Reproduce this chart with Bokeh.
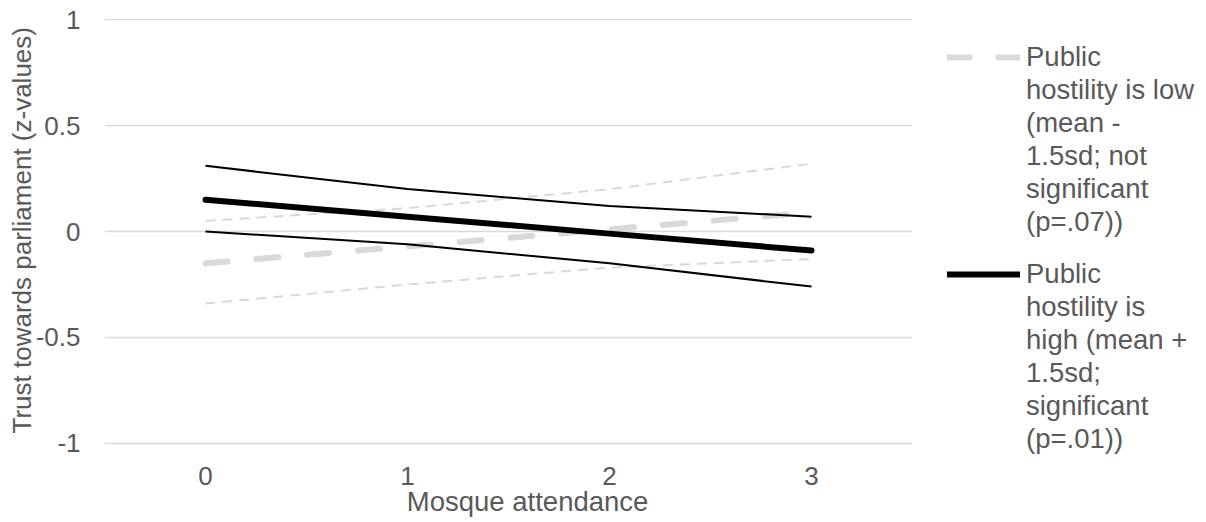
from bokeh.plotting import figure
from bokeh.layouts import row
from bokeh.models import FactorRange, Range1d, FixedTicker, Legend, LegendItem
from bokeh.embed import file_html
from bokeh.resources import INLINE

# ---- data ----
categories = ["0", "1", "2", "3"]
low_mean = [-0.15, -0.07, 0.01, 0.09]
low_upper = [0.05, 0.11, 0.20, 0.32]
low_lower = [-0.34, -0.25, -0.17, -0.13]
high_mean = [0.15, 0.07, -0.01, -0.09]
high_upper = [0.31, 0.20, 0.12, 0.07]
high_lower = [0.00, -0.06, -0.15, -0.26]
y_ticks = [-1, -0.5, 0, 0.5, 1]
y_tick_labels = ["-1", "-0.5", "0", "0.5", "1"]
low_label_lines = ["Public", "hostility is low", "(mean -", "1.5sd; not",
                   "significant", "(p=.07))"]
high_label_lines = ["Public", "hostility is", "high (mean +", "1.5sd;",
                    "significant", "(p=.01))"]

FONT = "Liberation Sans"
FS = "26px"
TXT = "#595959"
GRID = "#d9d9d9"
LIGHT = "#d9d9d9"

LOW_STYLE = dict(line_color=LIGHT, line_width=6, line_dash="22 29",
                 line_cap="round", line_join="round")
HIGH_STYLE = dict(line_color="black", line_width=6,
                  line_cap="round", line_join="round")

p = figure(width=912, height=522,
           x_range=FactorRange(*categories, range_padding=0, factor_padding=0),
           y_range=Range1d(-1.0616, 1.005),
           output_backend="svg", toolbar_location=None,
           min_border_left=104, min_border_right=0,
           min_border_top=18, min_border_bottom=66)
p.outline_line_color = None
p.xgrid.visible = False
p.ygrid.grid_line_color = GRID
p.ygrid.grid_line_width = 1.3
p.background_fill_color = "white"
p.border_fill_color = "white"

p.yaxis.ticker = FixedTicker(ticks=y_ticks)
p.yaxis.major_label_overrides = dict(zip(y_ticks, y_tick_labels))

for ax in (p.xaxis[0], p.yaxis[0]):
    ax.axis_line_color = None
    ax.major_tick_line_color = None
    ax.minor_tick_line_color = None
    ax.major_tick_in = 0
    ax.major_tick_out = 0
    ax.minor_tick_in = 0
    ax.minor_tick_out = 0
    ax.major_label_text_font = FONT
    ax.major_label_text_font_size = FS
    ax.major_label_text_color = TXT
    ax.axis_label_text_font = FONT
    ax.axis_label_text_font_size = FS
    ax.axis_label_text_font_style = "normal"
    ax.axis_label_text_color = TXT

p.yaxis.major_label_standoff = 24
p.yaxis.axis_label = "\u00a0\u00a0Trust towards parliament (z-values)"
p.yaxis.axis_label_standoff = -4
p.xaxis.major_label_standoff = 10
p.xaxis.axis_label = "\u00a0\u00a0\u00a0\u00a0\u00a0Mosque attendance"
p.xaxis.axis_label_text_font_size = "27.5px"
p.xaxis.axis_label_standoff = -2

# ---- series ----
p.line(categories, low_upper, line_color=LIGHT, line_width=2, line_dash="10 7")
p.line(categories, low_lower, line_color=LIGHT, line_width=2, line_dash="10 7")
p.line(categories, low_mean, **LOW_STYLE)
p.line(categories, high_upper, line_color="black", line_width=2, line_join="round")
p.line(categories, high_lower, line_color="black", line_width=2, line_join="round")
p.line(categories, high_mean, **HIGH_STYLE)

# ---- legend panel (its frame is aligned with the chart's frame) ----
q = figure(width=294, height=522, x_range=Range1d(0, 1), y_range=Range1d(0, 1),
           output_backend="svg", toolbar_location=None,
           x_axis_type=None, y_axis_type=None,
           min_border_left=0, min_border_right=0,
           min_border_top=18, min_border_bottom=66)
q.outline_line_color = None
q.xgrid.visible = False
q.ygrid.visible = False
q.background_fill_color = "white"
q.border_fill_color = "white"

nan = float("nan")
q_low = q.line(x=[nan, nan], y=[nan, nan], **LOW_STYLE)
q_high = q.line(x=[nan, nan], y=[nan, nan], **HIGH_STYLE)
q_blank = q.line(x=[nan, nan], y=[nan, nan], line_alpha=0)


def make_legend(lines, renderer, loc):
    items = [LegendItem(label=lines[0], renderers=[renderer])]
    items += [LegendItem(label=t, renderers=[q_blank]) for t in lines[1:]]
    return Legend(items=items, location=loc, orientation="vertical",
                  glyph_width=73, glyph_height=20, label_height=33,
                  label_standoff=6, spacing=0, padding=0, margin=0,
                  border_line_color=None, background_fill_alpha=0,
                  label_text_font=FONT, label_text_font_size="27.5px",
                  label_text_color=TXT)


q.add_layout(make_legend(low_label_lines, q_low, (35, 218)))
q.add_layout(make_legend(high_label_lines, q_high, (35, 1)))

layout = row(p, q, spacing=0)
open("out.html", "w").write(file_html(layout, INLINE))
